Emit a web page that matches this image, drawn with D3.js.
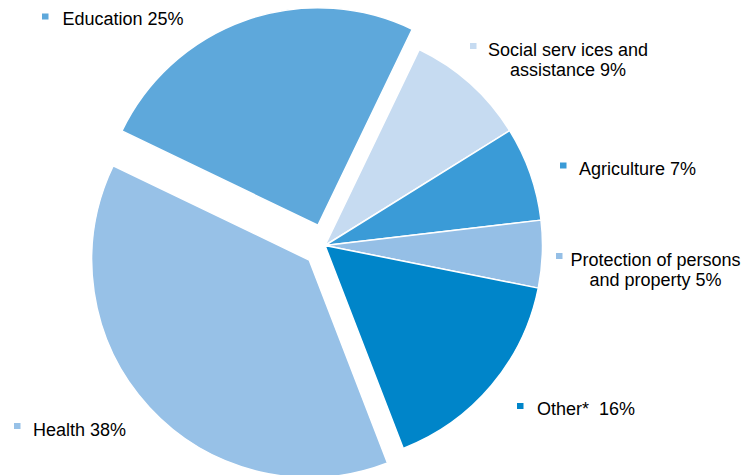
<!DOCTYPE html>
<html>
<head>
<meta charset="utf-8">
<script src="https://cdn.jsdelivr.net/npm/d3@7"></script>
<style>
  html, body { margin: 0; padding: 0; background: #fff; }
  svg { display: block; }
  text { font-family: "Liberation Sans", Arial, sans-serif; fill: #000; }
</style>
</head>
<body>
<svg id="chart" width="745" height="475"></svg>
<script>
// Spending shares by function (percent)
const categories = ["Social serv ices and assistance", "Agriculture", "Protection of persons and property", "Other*", "Health", "Education"];
const values = [9, 7, 5, 16, 38, 25];
const labelLines = [
  ["Social serv ices and", "assistance 9%"],
  ["Agriculture 7%"],
  ["Protection of persons", "and property 5%"],
  ["Other*  16%"],
  ["Health 38%"],
  ["Education 25%"]
];
const exploded = ["Health", "Education"];

const colors = ["#c6dbf1", "#3a9bd7", "#95bfe6", "#0085c9", "#97c1e7", "#5ea8db"];

// Label placement: marker square (x, y) and text block (anchor, x, first baseline)
const labelLayout = [
  { sx: 470, sy: 43, anchor: "middle", tx: 568, ty: 56 },
  { sx: 560, sy: 162.5, anchor: "start", tx: 579, ty: 175 },
  { sx: 556, sy: 253, anchor: "middle", tx: 655.5, ty: 266 },
  { sx: 517, sy: 403, anchor: "start", tx: 537, ty: 415 },
  { sx: 14, sy: 423, anchor: "start", tx: 33, ty: 436 },
  { sx: 42, sy: 13.5, anchor: "start", tx: 62.5, ty: 25 }
];

const svg = d3.select("#chart");
const cx = 325, cy = 245.5, radius = 217.5, explode = 21.5;
const start = 25.7 * Math.PI / 180;

const pie = d3.pie().sort(null).value(d => d.value)
  .startAngle(start).endAngle(start + 2 * Math.PI);
const arc = d3.arc().innerRadius(0).outerRadius(radius);

const data = categories.map((c, i) => ({ name: c, value: values[i], color: colors[i] }));
const arcs = pie(data);

const g = svg.append("g").attr("transform", `translate(${cx},${cy})`);

g.selectAll("path")
  .data(arcs)
  .join("path")
  .attr("d", arc)
  .attr("fill", d => d.data.color)
  .attr("stroke", "#fff")
  .attr("stroke-width", 1.5)
  .attr("stroke-linejoin", "round")
  .attr("transform", d => {
    if (!exploded.includes(d.data.name)) return null;
    const mid = (d.startAngle + d.endAngle) / 2;
    return `translate(${Math.sin(mid) * explode},${-Math.cos(mid) * explode})`;
  });

// Legend-style labels around the pie
const labels = svg.append("g");
labelLayout.forEach((p, i) => {
  labels.append("rect")
    .attr("x", p.sx).attr("y", p.sy)
    .attr("width", 6.5).attr("height", 6)
    .attr("fill", colors[i]);
  const t = labels.append("text")
    .attr("text-anchor", p.anchor)
    .attr("font-size", 18);
  labelLines[i].forEach((line, j) => {
    t.append("tspan")
      .attr("x", p.tx)
      .attr("y", p.ty + j * 20)
      .attr("xml:space", "preserve")
      .style("white-space", "pre")
      .text(line);
  });
});
</script>
</body>
</html>
